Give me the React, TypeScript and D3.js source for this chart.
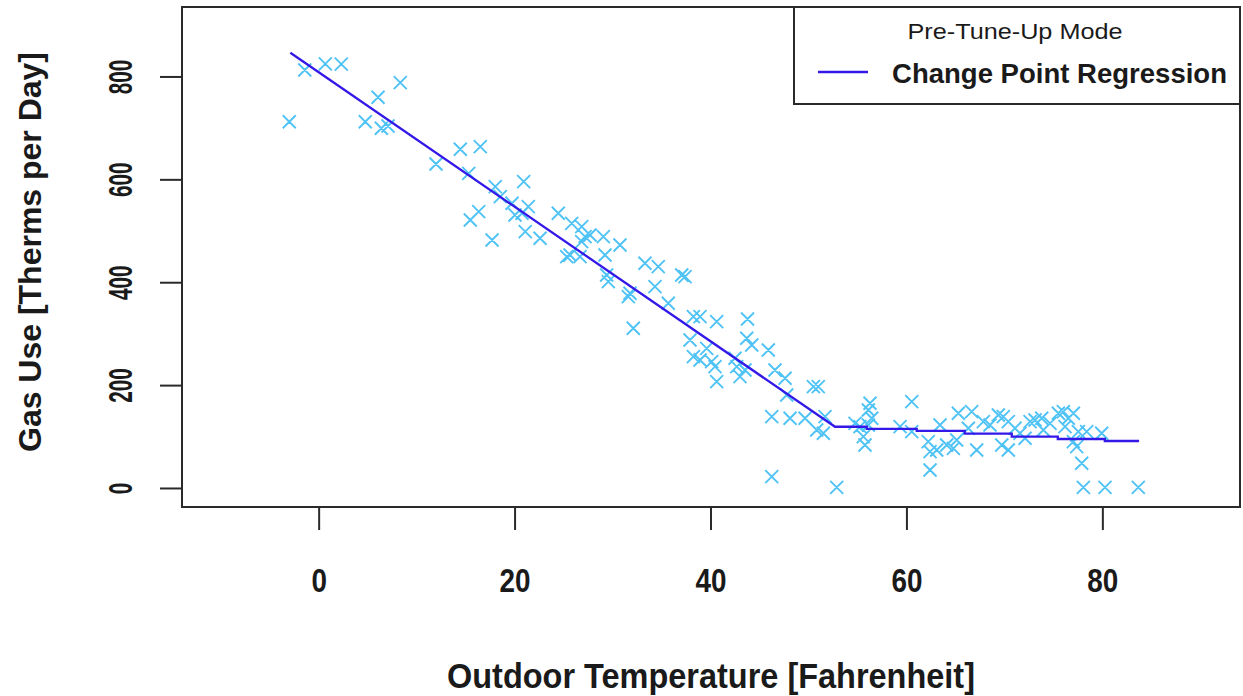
import React from "react";
import * as d3 from "d3";

const tempF = [
  -3.05, -1.47, 0.63, 2.26, 8.28, 6.01, 4.71, 6.35, 7.03, 11.93, 14.41, 16.45, 15.27, 17.98, 18.49,
  20.88, 19.69, 20.71, 16.29, 15.43, 21.04, 17.65, 21.35, 19.99, 22.55, 24.41, 25.78, 26.8, 27.14,
  27.65, 29.01, 26.8, 25.61, 26.63, 25.27, 29.18, 30.71, 29.35, 29.52, 33.26, 34.62, 34.28, 31.73,
  31.56, 35.64, 37.01, 37.35, 32.07, 38.2, 38.88, 40.58, 37.86, 38.2, 38.88, 40.07, 40.58, 42.63,
  42.96, 43.73, 39.56, 40.41, 42.45, 43.47, 43.65, 44.16, 45.85, 46.53, 47.56, 47.73, 46.2, 48.07,
  49.6, 50.45, 50.95, 50.79, 51.47, 51.64, 46.2, 52.83, 56.23, 56.06, 56.41, 54.7, 56.06, 55.55,
  55.72, 55.21, 60.49, 59.3, 60.49, 63.38, 62.18, 62.36, 63.04, 62.36, 64.06, 64.74, 65.08, 65.25,
  66.61, 66.27, 67.12, 67.8, 68.48, 69.33, 69.84, 70.35, 69.68, 70.35, 71.03, 71.54, 72.06, 72.57,
  73.08, 73.76, 73.93, 74.61, 75.46, 75.97, 76.48, 76.99, 76.14, 77.5, 78.35, 76.99, 77.33, 77.84,
  78.01, 80.22, 79.88, 83.62,
];
const gasUse = [
  713, 813.6, 825.3, 825, 788.9, 760.5, 713, 700.2, 704.7, 630.8, 659.4, 664.5, 612.7, 586.7, 567.3,
  596.4, 554.4, 535, 538.1, 522, 499.2, 483, 547.8, 531.7, 486.4, 535, 515.5, 508.9, 489.5,
  492.8, 489.5, 479.8, 453.9, 450.6, 450.6, 453.9, 473.4, 415, 402, 437.8, 431.2, 392.3, 379.5,
  372.9, 360, 415, 411.7, 311.4, 334, 334, 324.3, 288.7, 256.2, 249.8, 246.5, 207.6, 236.8,
  217.3, 329.5, 272.5, 236.8, 253.1, 230.4, 292, 279, 269.2, 230.4, 214.2, 181.8, 139.6, 136.5,
  136.5, 197.9, 197.9, 113.7, 107.3, 139.6, 22.9, 2, 165.6, 152.6, 136.5, 126.7, 123.4, 100.7,
  84.6, 120.1, 168.7, 120.1, 110.4, 123.4, 91, 71.5, 74.8, 36, 84.6, 78.1, 94.3, 146.2,
  149.3, 117, 74.8, 129.9, 123.4, 142.9, 139.6, 129.9, 84.6, 74.8, 117, 107.3, 97.6, 129.9,
  133.2, 136.5, 113.7, 126.7, 146.2, 149.3, 136.5, 146.2, 120.1, 110.4, 110.4, 91, 81.3, 49,
  2, 2, 107.3, 2,
];

const lineTemp = [-2.94, 52.66, 55.9, 55.9, 61.0, 61.0, 65.9, 65.9, 70.7, 70.7, 75.4, 75.4, 80.2, 80.2, 83.7];
const lineGas = [847, 120, 120, 115.7, 115.7, 111.8, 111.8, 106.5, 106.5, 100.7, 100.7, 96.2, 96.2, 92.3, 92.3];

const xTicks = [0, 20, 40, 60, 80];
const yTicks = [0, 200, 400, 600, 800];

const legendTitle = "Pre-Tune-Up Mode";
const legendLabel = "Change Point Regression";
const xTitle = "Outdoor Temperature [Fahrenheit]";
const yTitle = "Gas Use [Therms per Day]";

export default function App() {
  const W = 1243;
  const H = 696;
  const left = 182, right = 1240, top = 7, bottom = 507;
  const x = d3.scaleLinear().domain([-14, 94]).range([left, right]);
  const y = d3.scaleLinear().domain([-36, 936]).range([bottom, top]);

  const linePts: [number, number][] = lineTemp.map((t, i) => [t, lineGas[i]]);
  const lineGen = d3
    .line<[number, number]>()
    .x((d) => x(d[0]))
    .y((d) => y(d[1]));

  const s = 6.5;
  const crossPath = tempF
    .map((t, i) => {
      const cx = x(t);
      const cy = y(gasUse[i]);
      return `M${cx - s},${cy - s}L${cx + s},${cy + s}M${cx - s},${cy + s}L${cx + s},${cy - s}`;
    })
    .join("");

  const frame = "#2a2a2a";
  const txt = "#1a1a1a";
  const narrow = "'Liberation Sans Narrow', 'Arial Narrow', 'Liberation Sans', Arial, sans-serif";
  const sans = "'Liberation Sans', Arial, sans-serif";

  return (
    <svg
      width={W}
      height={H}
      style={{ position: "absolute", left: 0, top: 0, background: "#fff" }}
    >
      <rect x={0} y={0} width={W} height={H} fill="#fff" />
      {/* points */}
      <path d={crossPath} stroke="#4fc3f5" strokeWidth={1.9} fill="none" />
      {/* regression line */}
      <path d={lineGen(linePts) || ""} stroke="#3318e8" strokeWidth={2.3} fill="none" />

      {/* frame */}
      <rect
        x={left}
        y={top}
        width={right - left}
        height={bottom - top}
        fill="none"
        stroke={frame}
        strokeWidth={2}
      />

      {/* x axis ticks */}
      {xTicks.map((t) => (
        <g key={"xt" + t}>
          <line x1={x(t)} x2={x(t)} y1={bottom} y2={bottom + 23} stroke={frame} strokeWidth={2} />
          <text
            x={x(t)}
            y={592}
            textAnchor="middle"
            fontFamily={narrow}
            fontWeight="bold"
            fontSize={34}
            fill={txt}
            textLength={String(t).length * 15.5}
            lengthAdjust="spacingAndGlyphs"
          >
            {t}
          </text>
        </g>
      ))}

      {/* y axis ticks */}
      {yTicks.map((t) => (
        <g key={"yt" + t}>
          <line x1={left - 22} x2={left} y1={y(t)} y2={y(t)} stroke={frame} strokeWidth={2} />
          <text
            transform={`translate(132,${y(t)}) rotate(-90)`}
            textAnchor="middle"
            fontFamily={narrow}
            fontWeight="bold"
            fontSize={34}
            fill={txt}
            textLength={String(t).length * 11.5}
            lengthAdjust="spacingAndGlyphs"
          >
            {t}
          </text>
        </g>
      ))}

      {/* axis titles */}
      <text
        x={711}
        y={688}
        textAnchor="middle"
        fontFamily={narrow}
        fontWeight="bold"
        fontSize={35}
        fill={txt}
        textLength={528}
        lengthAdjust="spacingAndGlyphs"
      >
        {xTitle}
      </text>
      <text
        transform={`translate(41,252) rotate(-90)`}
        textAnchor="middle"
        fontFamily={sans}
        fontWeight="bold"
        fontSize={32}
        fill={txt}
        textLength={400}
        lengthAdjust="spacingAndGlyphs"
      >
        {yTitle}
      </text>

      {/* legend */}
      <rect x={794} y={top} width={right - 794} height={104 - top} fill="#fff" stroke={frame} strokeWidth={2} />
      <text
        x={1015}
        y={39}
        textAnchor="middle"
        fontFamily={sans}
        fontSize={22}
        fill={txt}
        textLength={215}
        lengthAdjust="spacingAndGlyphs"
      >
        {legendTitle}
      </text>
      <line x1={818} x2={868} y1={72} y2={72} stroke="#3318e8" strokeWidth={2.3} />
      <text
        x={892}
        y={83}
        fontFamily={sans}
        fontWeight="bold"
        fontSize={27}
        fill={txt}
        textLength={335}
        lengthAdjust="spacingAndGlyphs"
      >
        {legendLabel}
      </text>
    </svg>
  );
}
